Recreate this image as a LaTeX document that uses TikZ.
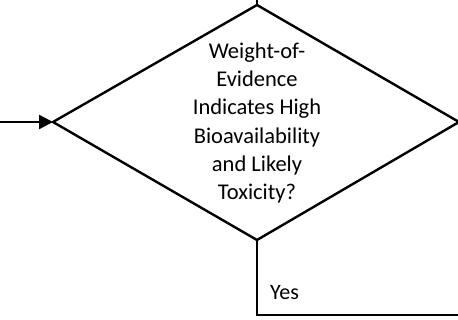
\documentclass[tikz,border=0pt]{standalone}
\usepackage{fontspec}
\setmainfont{Carlito}
\usetikzlibrary{arrows.meta}
\tikzset{
  edge/.style={line width=2.4pt, line join=miter},
  lbl/.style={font=\fontsize{22}{28}\selectfont, inner sep=0pt},
  dectext/.style={font=\fontsize{22.5}{28.2}\selectfont, align=center, inner sep=0pt}
}
\begin{document}
\begin{tikzpicture}[x=1pt,y=-1pt]
\useasboundingbox (0,0) rectangle (458,320);
\coordinate (T) at (257,5);
\coordinate (L) at (53,122);
\coordinate (R) at (459,122);
\coordinate (B) at (257,240);
\coordinate (topin) at (257,-2);
\coordinate (leftin) at (-2,122);
\coordinate (corner) at (257,315);
\coordinate (rightout) at (460,315);
\draw[edge] (T) -- (R) -- (B) -- (L) -- cycle;
\node[dectext] (dec) at (257,123) {Weight-of-\\Evidence\\Indicates High\\Bioavailability\\and Likely\\Toxicity?};
\draw[edge] (topin) -- (T);
\draw[edge, -{Triangle[length=14pt,width=14pt]}] (leftin) -- (L);
\draw[edge] (B) -- (corner) -- (rightout);
\node[lbl, anchor=west] (yes) at (270,293) {Yes};
\end{tikzpicture}
\end{document}
